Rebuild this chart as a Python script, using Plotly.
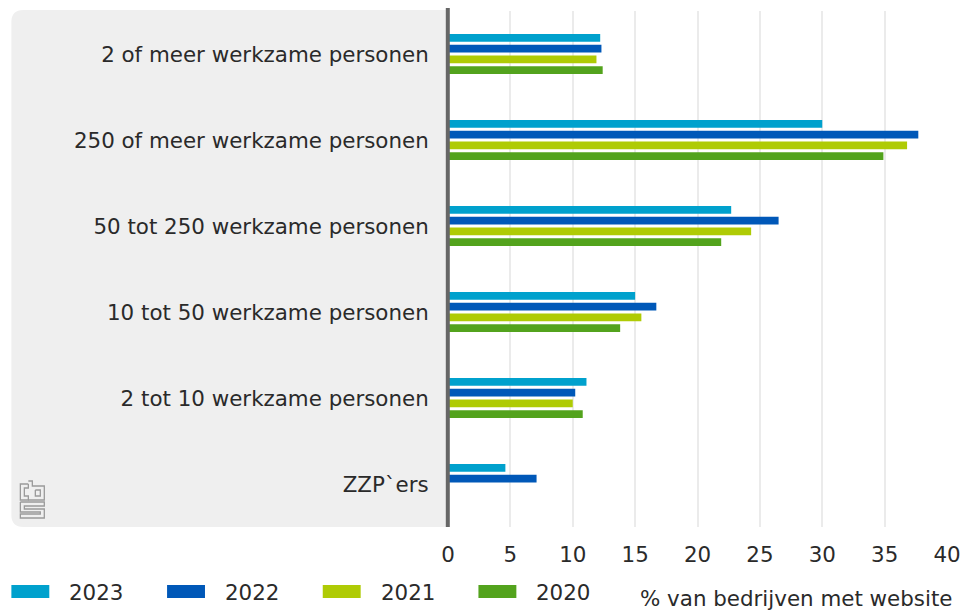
import plotly.graph_objects as go

categories = [
    "2 of meer werkzame personen",
    "250 of meer werkzame personen",
    "50 tot 250 werkzame personen",
    "10 tot 50 werkzame personen",
    "2 tot 10 werkzame personen",
    "ZZP`ers",
]
years = ["2023", "2022", "2021", "2020"]
v2023 = [12.2, 30.0, 22.7, 15.0, 11.1, 4.6]
v2022 = [12.3, 37.7, 26.5, 16.7, 10.2, 7.1]
v2021 = [11.9, 36.8, 24.3, 15.5, 10.0, None]
v2020 = [12.4, 34.9, 21.9, 13.8, 10.8, None]
x_ticks = [0, 5, 10, 15, 20, 25, 30, 35, 40]
x_title = "% van bedrijven met website"

series = [v2023, v2022, v2021, v2020]
colors = ["#00a1cd", "#0058b8", "#afcb05", "#53a31d"]

OFF = 8  # page body margin
W, H = 969 - OFF, 614 - OFF
L, R, T, B = 447.5 - OFF, 21.5, 11 - OFF, 87
PW = W - L - R
PH = H - T - B


def px(x):
    return (x - OFF - L) / PW


def py(y):
    return (H - B - (y - OFF)) / PH


FONT = "DejaVu Sans"
FS = 21.4
TXT = "#2a2a2a"

fig = go.Figure()
for name, vals, col in zip(years, series, colors):
    fig.add_trace(go.Bar(
        y=categories, x=vals, name=name, orientation="h",
        marker=dict(color=col, line=dict(width=0)), showlegend=False,
    ))

shapes = []
# grey panel behind category labels (rounded left corners)
x0, x1, y0, y1, r = 10, 446, 10, 527, 12
path = (f"M {px(x0+r)},{py(y0)} L {px(x1)},{py(y0)} L {px(x1)},{py(y1)} "
        f"L {px(x0+r)},{py(y1)} Q {px(x0)},{py(y1)} {px(x0)},{py(y1-r)} "
        f"L {px(x0)},{py(y0+r)} Q {px(x0)},{py(y0)} {px(x0+r)},{py(y0)} Z")
shapes.append(dict(type="path", xref="paper", yref="paper", path=path,
                   fillcolor="#efefef", line=dict(width=0), layer="below"))
# axis line at zero
shapes.append(dict(type="line", xref="paper", yref="paper",
                   x0=px(447.3), x1=px(447.3), y0=py(7), y1=py(527),
                   line=dict(color="#666666", width=4), layer="above"))


# cbs logo (approximate)
def pline(pts):
    d = "M " + " L ".join(f"{px(a)},{py(b)}" for a, b in pts)
    return dict(type="path", xref="paper", yref="paper", path=d,
                line=dict(color="#9a9a9a", width=1.3), layer="above")


shapes += [
    pline([(27, 484), (19, 484), (19, 500), (27, 500), (27, 496), (23, 496), (23, 488), (27, 488), (27, 484)]),
    pline([(27, 481), (31, 481), (31, 486), (43, 486), (43, 500), (27, 500)]),
    pline([(34, 490), (39, 490), (39, 496), (34, 496), (34, 490)]),
    pline([(19, 502), (43, 502), (43, 506), (23, 506), (23, 509), (43, 509), (43, 518), (19, 518), (19, 514), (39, 514), (39, 512), (19, 512), (19, 502)]),
]

annotations = []
# legend (manual)
lx = [10, 166, 322, 478]
for name, col, x in zip(years, colors, lx):
    shapes.append(dict(type="rect", xref="paper", yref="paper",
                       x0=px(x), x1=px(x + 38), y0=py(598), y1=py(585),
                       fillcolor=col, line=dict(width=0)))
    annotations.append(dict(x=px(x + 56), y=py(592), xref="paper", yref="paper",
                            text=name, showarrow=False, xanchor="left", yanchor="middle",
                            font=dict(family=FONT, size=FS, color=TXT)))
annotations.append(dict(x=px(955), y=py(598), xref="paper", yref="paper",
                        text=x_title, showarrow=False, xanchor="right", yanchor="middle",
                        font=dict(family=FONT, size=FS, color=TXT)))

fig.update_layout(
    width=W, height=H,
    margin=dict(l=L, r=R, t=T, b=B, pad=0),
    paper_bgcolor="white", plot_bgcolor="rgba(0,0,0,0)",
    barmode="group", bargap=0.5, bargroupgap=0.26,
    font=dict(family=FONT, size=FS, color=TXT),
    shapes=shapes, annotations=annotations,
    xaxis=dict(range=[0, 40], tickvals=x_ticks, showgrid=True,
               gridcolor="#ebebeb", gridwidth=2, zeroline=False,
               showline=False, ticks="outside", ticklen=8,
               tickcolor="rgba(0,0,0,0)", fixedrange=True,
               tickfont=dict(family=FONT, size=FS, color=TXT)),
    yaxis=dict(categoryorder="array", categoryarray=categories,
               autorange="reversed", showgrid=False, zeroline=False,
               ticks="outside", ticklen=14, tickcolor="rgba(0,0,0,0)",
               tickfont=dict(family=FONT, size=FS, color=TXT)),
)

fig.write_html("out.html")
